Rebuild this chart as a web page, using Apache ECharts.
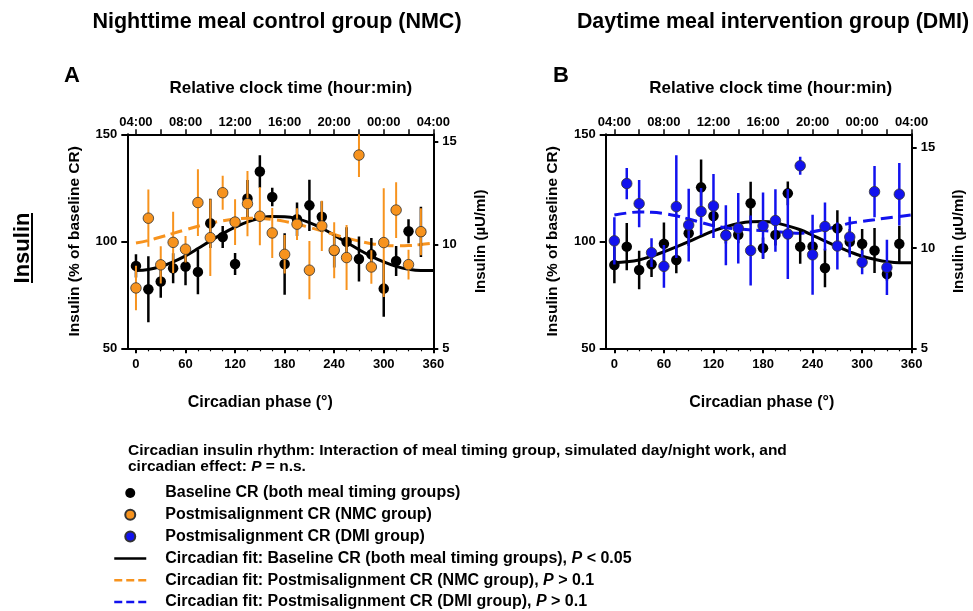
<!DOCTYPE html>
<html><head><meta charset="utf-8">
<script src="https://cdn.jsdelivr.net/npm/echarts@6/dist/echarts.min.js"></script>
<style>html,body{margin:0;padding:0;background:#fff}#c{width:973px;height:611px}</style>
</head><body><div id="c"></div>
<script>
// ---------- data ----------
const phases = [0,15,30,45,60,75,90,105,120,135,150,165,180,195,210,225,240,255,270,285,300,315,330,345];
const fitPhases = [0,15,30,45,60,75,90,105,120,135,150,165,180,195,210,225,240,255,270,285,300,315,330,345,360];
const clockLabels = ['04:00','08:00','12:00','16:00','20:00','00:00','04:00'];
const clockLabelPhases = [0,60,120,180,240,300,360];
const clockTickPhases = [0,30,60,90,120,150,180,210,240,270,300,330,360];
const phaseTicks = [0,60,120,180,240,300,360];
const minorPhaseTicks = [15,30,45,75,90,105,135,150,165,195,210,225,255,270,285,315,330,345];
const leftTicks = [50,100,150];
const rightTicks = [5,10,15];

// Panel A (NMC)
const aBase    = [88.5,77.6,81.2,87.4,88.2,85.7,108.4,102.0,89.4,120.0,132.6,120.7,89.4,110.3,116.8,111.5,95.6,99.8,91.7,93.9,77.9,90.8,104.7,104.4];
const aBaseErr = [5.4,15.4,7.6,7.0,8.7,10.4,11.5,5.1,5.1,8.6,7.6,4.3,14.4,7.8,12.0,7.2,7.8,6.8,10.5,7.6,13.2,7.0,5.6,11.7];
const aNmc     = [78.2,110.8,89.0,99.5,96.3,118.1,101.7,122.7,109.0,117.6,111.7,103.9,93.9,108.0,86.5,107.2,95.8,92.4,140.3,88.0,99.4,114.6,89.1,104.5];
const aNmcErr  = [10.4,13.4,8.7,14.3,6.2,15.6,17.9,7.9,10.7,15.2,13.6,11.7,9.0,7.4,13.6,11.7,13.1,15.2,10.3,7.8,25.4,13.0,7.0,11.0];
const aBaseFit = [86.3,86.8,88.2,90.4,93.2,96.6,100.2,103.6,106.6,109.1,110.8,111.6,111.5,110.6,108.7,106.1,102.9,99.5,96.1,93.0,90.4,88.3,86.9,86.3,86.3];
const aNmcFit  = [99.2,100.4,102.0,103.7,105.4,107.0,108.5,109.6,110.4,110.8,110.7,110.2,109.3,108.1,106.5,104.9,103.2,101.5,100.1,98.9,98.2,97.9,98.0,98.5,99.2];

// Panel B (DMI)
const bBase    = [88.9,97.5,86.6,89.3,98.8,91.3,103.8,125.2,111.8,103.0,103.1,117.8,96.8,103.0,122.4,97.5,97.6,87.5,106.1,99.8,98.8,95.7,84.7,98.8];
const bBaseErr = [8.5,11.0,9.0,6.0,10.0,6.2,6.0,13.0,5.0,4.0,4.0,10.0,5.0,5.0,5.5,8.0,5.0,9.0,8.4,6.0,7.0,10.5,3.0,8.5];
const bDmi     = [100.2,127.0,117.6,94.7,88.3,116.2,107.6,113.9,116.5,102.8,106.1,95.7,107.3,109.7,103.4,135.3,93.7,106.9,97.8,102.0,90.2,123.2,87.8,122.0];
const bDmiErr  = [11.0,7.3,11.0,6.7,10.0,24.0,17.0,11.0,15.0,14.0,16.5,16.4,15.5,14.6,21.0,4.2,18.7,11.2,11.0,9.5,5.6,12.0,12.9,14.6];
const bBaseFit = [90.0,90.4,91.3,93.0,95.1,97.4,99.8,102.4,104.9,106.8,108.3,109.1,109.2,108.6,107.2,105.4,102.8,100.1,97.5,95.1,93.0,91.6,90.5,90.0,90.0];
const bDmiFit  = [112.3,113.2,113.7,113.6,113.0,111.9,110.4,108.8,107.3,106.3,105.7,105.3,105.0,104.5,104.0,103.8,104.5,105.6,107.0,108.4,109.3,110.1,110.9,111.6,112.3];

const names = {
  base: 'Baseline CR (both meal timing groups)',
  nmc: 'Postmisalignment CR (NMC group)',
  dmi: 'Postmisalignment CR (DMI group)',
  baseFit: 'Circadian fit: Baseline CR (both meal timing groups), P < 0.05',
  nmcFit: 'Circadian fit: Postmisalignment CR (NMC group), P > 0.1',
  dmiFit: 'Circadian fit: Postmisalignment CR (DMI group), P > 0.1'
};

// ---------- styling ----------
const FONT = '"Liberation Sans", Arial, Helvetica, sans-serif';
const ORANGE = '#F7931E';
const BLUE = '#1212EE';
const AX = {color:'#000', width:2};

const pairs = (xs, ys) => xs.map((x,i)=>[x, ys[i]]);
const triples = (xs, ys, es) => xs.map((x,i)=>[x, ys[i], es[i]]);

function errBar(color, width){
  return function(params, api){
    const x = api.value(0), y = api.value(1), e = api.value(2);
    const a = api.coord([x, y + e]), b = api.coord([x, y - e]);
    return {type:'line', shape:{x1:a[0], y1:a[1], x2:b[0], y2:b[1]}, style:{stroke:color, lineWidth:width}};
  };
}

function xAxesFor(grid, topPad, botPad){
  return [
    { // bottom main
      type:'value', gridIndex:grid, position:'bottom', min:-10.5, max:360,
      name:'Circadian phase (°)', nameLocation:'middle', nameGap:46,
      nameTextStyle:{fontFamily:FONT, fontWeight:'bold', fontSize:16, color:'#000', padding:botPad},
      axisLine:{show:true, onZero:false, lineStyle:AX},
      axisTick:{show:true, inside:false, length:5, lineStyle:{color:'#000', width:2}, customValues:phaseTicks},
      axisLabel:{show:true, margin:10, fontFamily:FONT, fontWeight:'bold', fontSize:13, color:'#000', customValues:phaseTicks},
      splitLine:{show:false}
    },
    { // bottom minor ticks
      type:'value', gridIndex:grid, position:'bottom', min:-10.5, max:360,
      axisLine:{show:false, onZero:false},
      axisTick:{show:true, inside:false, length:3, lineStyle:{color:'#000', width:1.2}, customValues:minorPhaseTicks},
      axisLabel:{show:false}, splitLine:{show:false}
    },
    { // top clock axis
      type:'value', gridIndex:grid, position:'top', min:-10.5, max:360,
      name:'Relative clock time (hour:min)', nameLocation:'middle', nameGap:37,
      nameTextStyle:{fontFamily:FONT, fontWeight:'bold', fontSize:17, color:'#000', padding:topPad},
      axisLine:{show:true, onZero:false, lineStyle:AX},
      axisTick:{show:true, inside:false, length:5, lineStyle:{color:'#000', width:1.5}, customValues:clockTickPhases},
      axisLabel:{show:true, margin:5, fontFamily:FONT, fontWeight:'bold', fontSize:13, color:'#000',
        customValues:clockLabelPhases,
        formatter:(v)=>{ const i = clockLabelPhases.indexOf(Math.round(v)); return i>=0 ? clockLabels[i] : ''; }},
      splitLine:{show:false}
    }
  ];
}

function yAxesFor(grid, rmax){
  return [
    {
      type:'value', gridIndex:grid, position:'left', min:50, max:150, interval:50,
      name:'Insulin (% of baseline CR)', nameLocation:'middle', nameGap:45,
      nameTextStyle:{fontFamily:FONT, fontWeight:'bold', fontSize:15.5, color:'#000'},
      axisLine:{show:true, onZero:false, lineStyle:AX},
      axisTick:{show:true, inside:false, length:6, lineStyle:{color:'#000', width:2}},
      axisLabel:{show:true, margin:10, fontFamily:FONT, fontWeight:'bold', fontSize:13, color:'#000'},
      splitLine:{show:false}
    },
    {
      type:'value', gridIndex:grid, position:'right', min:5, max:rmax, alignTicks:false,
      name:'Insulin (µU/ml)', nameLocation:'middle', nameGap:40,
      nameTextStyle:{fontFamily:FONT, fontWeight:'bold', fontSize:15, color:'#000'},
      axisLine:{show:true, onZero:false, lineStyle:AX},
      axisTick:{show:true, inside:false, length:5, lineStyle:{color:'#000', width:2}, customValues:rightTicks},
      axisLabel:{show:true, margin:9, fontFamily:FONT, fontWeight:'bold', fontSize:13, color:'#000', customValues:rightTicks},
      splitLine:{show:false}
    }
  ];
}

const xAxis = [].concat(xAxesFor(0, [0,0,0,21], [0,40,0,0]), xAxesFor(1, [0,0,0,24], [0,0,0,6]));
const yAxis = [].concat(yAxesFor(0, 15.34), yAxesFor(1, 15.67));

function fitLine(name, xi, yi, vals, color, dashed){
  return {type:'line', name, xAxisIndex:xi, yAxisIndex:yi, data:pairs(fitPhases, vals), smooth:0.4,
    symbol:'none', showSymbol:false, z:1, itemStyle:{color},
    lineStyle:{color, width:3, type: dashed ? [12,6] : 'solid'}};
}
function bars(xi, yi, vals, errs, color, width, z){
  return {type:'custom', xAxisIndex:xi, yAxisIndex:yi, data:triples(phases, vals, errs),
    encode:{x:0, y:1}, renderItem:errBar(color, width), clip:true, z};
}
function dots(name, xi, yi, vals, color, border, z){
  return {type:'scatter', name, xAxisIndex:xi, yAxisIndex:yi, data:pairs(phases, vals), symbol:'circle', symbolSize:10.5, z,
    itemStyle:{color, opacity:1, borderColor:border || color, borderWidth: border ? 0.8 : 0}};
}

const series = [
  fitLine(names.baseFit, 0, 0, aBaseFit, '#000', false),
  fitLine(names.nmcFit, 0, 0, aNmcFit, ORANGE, true),
  fitLine(names.baseFit, 3, 2, bBaseFit, '#000', false),
  fitLine(names.dmiFit, 3, 2, bDmiFit, BLUE, true),
  bars(0, 0, aBase, aBaseErr, '#000', 2.5, 2),
  dots(names.base, 0, 0, aBase, '#000', null, 3),
  bars(0, 0, aNmc, aNmcErr, ORANGE, 2, 4),
  dots(names.nmc, 0, 0, aNmc, ORANGE, '#333', 5),
  bars(3, 2, bBase, bBaseErr, '#000', 2.5, 2),
  dots(names.base, 3, 2, bBase, '#000', null, 3),
  bars(3, 2, bDmi, bDmiErr, BLUE, 2.5, 4),
  dots(names.dmi, 3, 2, bDmi, BLUE, '#333', 5)
];

const boldText = (text, x, y, size, extra) => ({
  type:'text', x, y, silent:true,
  style:Object.assign({text, fontFamily:FONT, fontWeight:'bold', fontSize:size, fill:'#000',
    textAlign:'center', textVerticalAlign:'middle'}, extra || {})
});

const hideSym = {opacity:0, borderWidth:0};
const option = {
  animation:false,
  backgroundColor:'#fff',
  grid:[
    {left:127.3, top:134.3, width:306, height:214, containLabel:false},
    {left:605.7, top:134.3, width:306, height:214, containLabel:false}
  ],
  xAxis, yAxis, series,
  legend:{
    orient:'vertical', left:113, top:484, height:127, padding:0, itemWidth:32, itemHeight:10, itemGap:3.8, selectedMode:false,
    data:[
      {name:names.base}, {name:names.nmc}, {name:names.dmi},
      {name:names.baseFit, itemStyle:hideSym, lineStyle:{color:'#000', width:2.5, type:'solid'}},
      {name:names.nmcFit, itemStyle:hideSym, lineStyle:{color:ORANGE, width:2.5, type:[8,4]}},
      {name:names.dmiFit, itemStyle:hideSym, lineStyle:{color:BLUE, width:2.5, type:[8,4]}}
    ],
    formatter:(n)=>n.replace(', P ', ', {i|P} '),
    textStyle:{fontFamily:FONT, fontWeight:'bold', fontSize:16, color:'#000', lineHeight:18, padding:[0,0,0,14],
      rich:{i:{fontFamily:FONT, fontWeight:'bold', fontStyle:'italic', fontSize:16, color:'#000', lineHeight:18}}}
  },
  graphic:[
    boldText('Nighttime meal control group (NMC)', 277, 22, 21.5),
    boldText('Daytime meal intervention group (DMI)', 773, 22, 21.4),
    boldText('A', 72, 76, 22),
    boldText('B', 561, 76, 22),
    boldText('Insulin', 23, 248, 22, {}),
    {type:'text', x:128, y:443, silent:true,
      style:{text:'Circadian insulin rhythm: Interaction of meal timing group, simulated day/night work, and\ncircadian effect: {i|P} = n.s.',
        fontFamily:FONT, fontWeight:'bold', fontSize:15.5, fill:'#000', lineHeight:16, textAlign:'left', textVerticalAlign:'top',
        rich:{i:{fontFamily:FONT, fontWeight:'bold', fontStyle:'italic', fontSize:15.5, lineHeight:16}}}},
    {type:'line', silent:true, shape:{x1:32, y1:213, x2:32, y2:283}, style:{stroke:'#000', lineWidth:2}}
  ]
};
// rotate the "Insulin" row label
option.graphic[4].rotation = Math.PI/2;

const chart = echarts.init(document.getElementById('c'), null, {renderer:'canvas'});
chart.setOption(option);
</script>
</body></html>
